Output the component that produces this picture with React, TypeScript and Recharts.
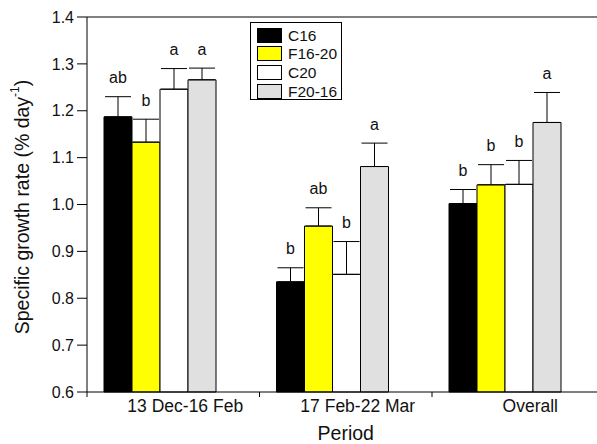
import { Bar, BarChart, ErrorBar, Label, LabelList, ReferenceLine, XAxis, YAxis } from "recharts";

const periods = ["13 Dec-16 Feb", "17 Feb-22 Mar", "Overall"];
const seriesNames = ["C16", "F16-20", "C20", "F20-16"];
const seriesColors = ["#000000", "#ffff00", "#ffffff", "#e0e0e0"];

const c16 = [1.187, 0.835, 1.002];
const c16Err = [0.043, 0.03, 0.03];
const c16Sig = ["ab", "b", "b"];

const f1620 = [1.133, 0.954, 1.042];
const f1620Err = [0.049, 0.039, 0.043];
const f1620Sig = ["b", "ab", "b"];

const c20 = [1.246, 0.851, 1.043];
const c20Err = [0.044, 0.07, 0.051];
const c20Sig = ["a", "b", "b"];

const f2016 = [1.266, 1.081, 1.175];
const f2016Err = [0.025, 0.05, 0.064];
const f2016Sig = ["a", "a", "a"];

const yTicks = [0.6, 0.7, 0.8, 0.9, 1.0, 1.1, 1.2, 1.3, 1.4];

const series = [
  { key: "s0", values: c16, errors: c16Err, letters: c16Sig },
  { key: "s1", values: f1620, errors: f1620Err, letters: f1620Sig },
  { key: "s2", values: c20, errors: c20Err, letters: c20Sig },
  { key: "s3", values: f2016, errors: f2016Err, letters: f2016Sig },
];

const chartData = periods.map((period, i) => {
  const row: Record<string, any> = { period };
  series.forEach((s) => {
    row[s.key] = s.values[i];
    row[s.key + "_err"] = [0, s.errors[i]];
    row[s.key + "_sig"] = s.letters[i];
  });
  return row;
});

// layout
const CHART_W = 620;
const CHART_H = 444;
const Y_AXIS_W = 87;
const MARGIN = { top: 17, right: 15.5, bottom: 22, left: 0 };
const BAND = (CHART_W - MARGIN.left - MARGIN.right - Y_AXIS_W) / periods.length;
const FONT = "'Liberation Sans', Arial, Helvetica, sans-serif";

// significance letters sit a little above the error bar
const sigLabel = (vals: number[], errs: number[]) => (props: any) => {
  const { x, y, width, height, index, value } = props;
  const perUnit = Number(height) / (vals[index] - 0.6);
  const top = Number(y) - errs[index] * perUnit;
  return (
    <text
      x={Number(x) + Number(width) / 2}
      y={top - 19}
      textAnchor="middle"
      dominantBaseline="central"
      fontSize={16}
      fill="#111"
    >
      {value}
    </text>
  );
};

const PeriodTick = (props: any) => {
  const { x, y, payload } = props;
  const edge = x - BAND / 2;
  return (
    <g>
      <line x1={edge} x2={edge} y1={y - 8} y2={y - 3} stroke="#000" />
      <text x={x + 12} y={y} dy="0.71em" textAnchor="middle" fontSize={17.5} fill="#111">
        {payload.value}
      </text>
    </g>
  );
};

const YTitle = () => (
  <text
    x={22}
    y={207}
    transform="rotate(-90, 22, 207)"
    textAnchor="middle"
    dominantBaseline="central"
    fontSize={19.5}
    fill="#111"
  >
    Specific growth rate (% day
    <tspan dy={-7} fontSize={12}>
      -1
    </tspan>
    <tspan dy={7}>)</tspan>
  </text>
);

const XTitle = (props: any) => {
  const vb = props.viewBox;
  return (
    <text x={vb.x + vb.width / 2} y={440} textAnchor="middle" fontSize={19.5} fill="#111">
      Period
    </text>
  );
};

function LegendBox() {
  return (
    <div
      style={{
        position: "absolute",
        left: 250,
        top: 22,
        width: 92,
        height: 78,
        border: "1px solid #000",
        boxSizing: "border-box",
        background: "#fff",
        paddingTop: 3,
      }}
    >
      {seriesNames.map((name, i) => (
        <div key={name} style={{ display: "flex", alignItems: "center", height: 18.6 }}>
          <div
            style={{
              marginLeft: 6,
              width: 25,
              height: 15,
              background: seriesColors[i],
              border: "1px solid #000",
              boxSizing: "border-box",
            }}
          />
          <span style={{ marginLeft: 6, fontSize: 15.5, color: "#111", lineHeight: "15px" }}>{name}</span>
        </div>
      ))}
    </div>
  );
}

export default function App() {
  return (
    <div
      style={{
        position: "absolute",
        left: 0,
        top: 0,
        width: 597,
        height: 444,
        overflow: "hidden",
        background: "#fff",
        fontFamily: FONT,
      }}
    >
      <BarChart
        width={CHART_W}
        height={CHART_H}
        data={chartData}
        margin={MARGIN}
        barGap={0}
        barCategoryGap={17}
      >
        <XAxis
          dataKey="period"
          interval={0}
          tickLine={false}
          axisLine={{ stroke: "#000" }}
          tick={<PeriodTick />}
          height={30}
        >
          <Label content={<XTitle />} />
        </XAxis>
        <YAxis
          width={Y_AXIS_W}
          domain={[0.6, 1.4]}
          ticks={yTicks}
          tickFormatter={(v: number) => v.toFixed(1)}
          tickSize={10}
          tickMargin={3}
          axisLine={{ stroke: "#000" }}
          tickLine={{ stroke: "#000" }}
          tick={{ fill: "#111", fontSize: 16 }}
        >
          <Label content={<YTitle />} />
        </YAxis>
        <ReferenceLine y={1.4} stroke="#000" />
        {series.map((s, i) => (
          <Bar
            key={s.key}
            dataKey={s.key}
            name={seriesNames[i]}
            fill={seriesColors[i]}
            stroke="#000"
            strokeWidth={1}
            isAnimationActive={false}
          >
            <ErrorBar dataKey={s.key + "_err"} width={13} stroke="#000" strokeWidth={1} direction="y" />
            <LabelList dataKey={s.key + "_sig"} content={sigLabel(s.values, s.errors)} />
          </Bar>
        ))}
        {/* empty slot to the right of each group, as in the original layout */}
        <Bar dataKey="pad" fill="none" isAnimationActive={false} />
      </BarChart>
      <LegendBox />
    </div>
  );
}
